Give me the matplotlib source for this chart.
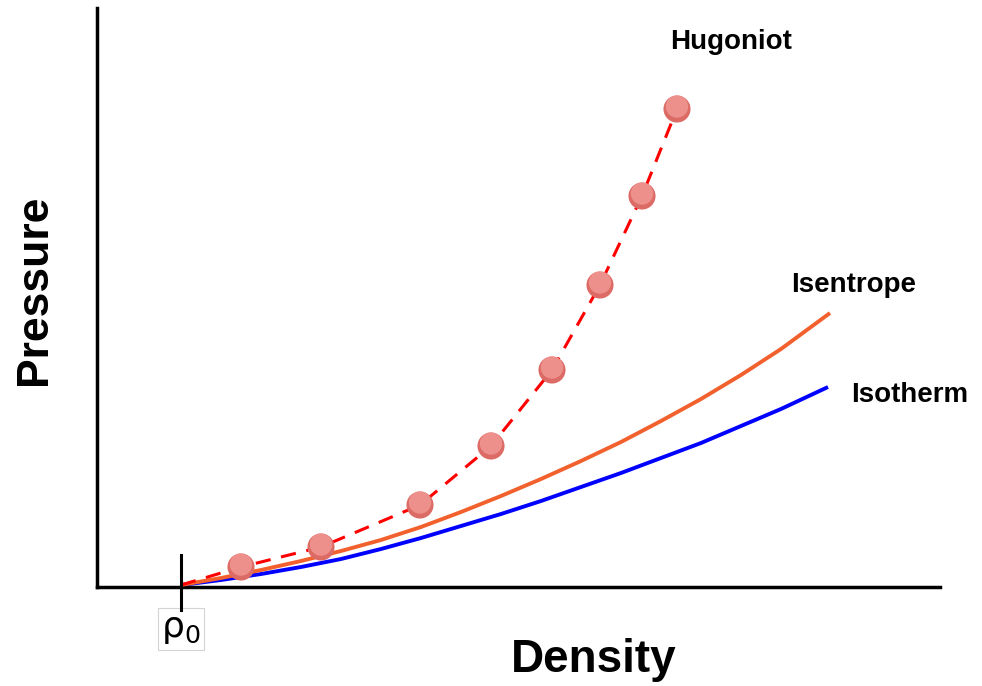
import numpy as np
import matplotlib
matplotlib.use('Agg')
from matplotlib import pyplot as plt

plt.rcParams['font.family'] = ['Liberation Sans', 'DejaVu Sans']
plt.rcParams['mathtext.fontset'] = 'custom'
plt.rcParams['mathtext.rm'] = 'DejaVu Sans'

# values (arbitrary units)
rho0 = 0.84
hug_density = [1.44, 2.24, 3.23, 3.94, 4.55, 5.03, 5.45, 5.80]
hug_pressure = [0.20, 0.40, 0.82, 1.41, 2.17, 3.02, 3.91, 4.78]
isen_density = [0.84, 1.24, 1.64, 2.04, 2.44, 2.84, 3.24, 3.64, 4.04,
                4.44, 4.84, 5.24, 5.64, 6.04, 6.44, 6.84, 7.33]
isen_pressure = [0.02, 0.09, 0.17, 0.26, 0.36, 0.47, 0.60, 0.75, 0.91,
                 1.08, 1.26, 1.45, 1.66, 1.88, 2.12, 2.38, 2.74]
iso_density = [0.84, 1.24, 1.64, 2.04, 2.44, 2.84, 3.24, 3.64, 4.04,
               4.44, 4.84, 5.24, 5.64, 6.04, 6.44, 6.84, 7.31]
iso_pressure = [0.02, 0.07, 0.13, 0.20, 0.28, 0.38, 0.49, 0.61, 0.73,
                0.86, 1.00, 1.14, 1.29, 1.44, 1.61, 1.78, 2.00]

fig = plt.figure(figsize=(9.82, 6.86), dpi=100)
ax = fig.add_axes([97/982, 1 - 587/686, 843/982, 579/686])
ax.set_xlim(0, 8.43)
ax.set_ylim(0, 5.79)

ax.plot(iso_density, iso_pressure, color='#0000ff', lw=2.8, zorder=2,
        solid_capstyle='butt')
ax.plot(isen_density, isen_pressure, color='#f2612d', lw=2.8, zorder=3,
        solid_capstyle='butt')
ax.plot([rho0] + hug_density, [0.02] + hug_pressure, color='#ff0000', lw=2.2,
        dashes=(5, 3.5), zorder=4)
ax.scatter(hug_density, hug_pressure, s=380, color='#dc6a65', edgecolor='none', zorder=5)
ax.scatter(hug_density, [p + 0.025 for p in hug_pressure], s=260, color='#f29a95',
           edgecolor='none', zorder=6, alpha=0.8)

for side in ['top', 'right']:
    ax.spines[side].set_visible(False)
for side in ['left', 'bottom']:
    ax.spines[side].set_linewidth(2.5)
ax.set_xticks([])
ax.set_yticks([])

# rho0 marker
ax.plot([rho0, rho0], [-0.23, 0.32], color='black', lw=2.2, clip_on=False, zorder=7)
ax.text(rho0, -0.42, r'ρ$_0$', fontsize=26, ha='center', va='center',
        family='DejaVu Sans',
        bbox=dict(boxstyle='square,pad=0.1', fc='white', ec='#d4d4d4', lw=0.8))

ax.text(6.34, 5.45, 'Hugoniot', fontsize=20, fontweight='bold', ha='center', va='center')
ax.text(7.57, 3.02, 'Isentrope', fontsize=20, fontweight='bold', ha='center', va='center')
ax.text(8.13, 1.92, 'Isotherm', fontsize=20, fontweight='bold', ha='center', va='center')

fig.text(594/982, 1 - 660/686, 'Density', fontsize=33, fontweight='bold',
         ha='center', va='center')
fig.text(35/982, 1 - 290/686, 'Pressure', fontsize=32, fontweight='bold',
         ha='center', va='center', rotation=90)

fig.savefig('out.png', dpi=100)
